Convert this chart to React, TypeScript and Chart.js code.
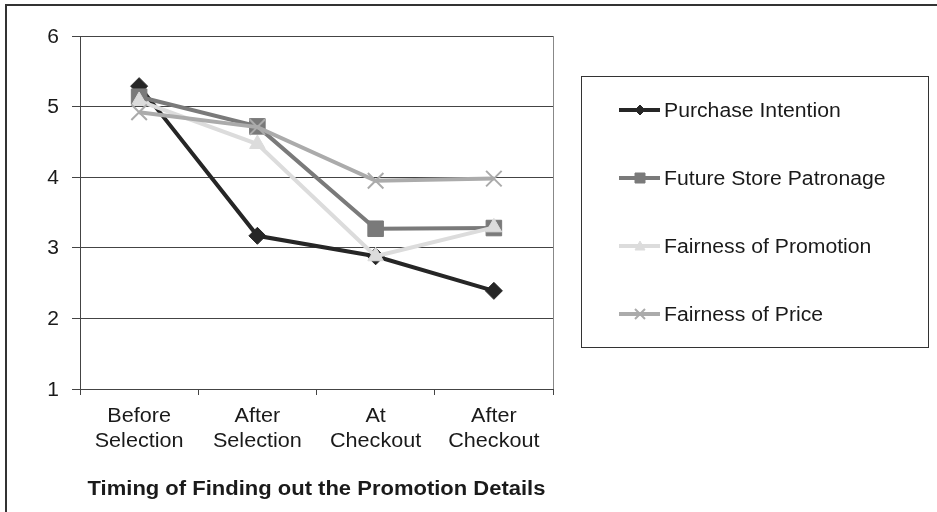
import React, { useEffect, useRef } from "react";
import { Chart, registerables } from "chart.js";

Chart.register(...registerables);

const categories: string[][] = [
  ["Before", "Selection"],
  ["After", "Selection"],
  ["At", "Checkout"],
  ["After", "Checkout"],
];
const seriesNames = [
  "Purchase Intention",
  "Future Store Patronage",
  "Fairness of Promotion",
  "Fairness of Price",
];
const purchaseIntention = [5.29, 3.17, 2.88, 2.39];
const futureStorePatronage = [5.14, 4.72, 3.27, 3.28];
const fairnessOfPromotion = [5.08, 4.47, 2.88, 3.29];
const fairnessOfPrice = [4.92, 4.71, 3.95, 3.98];
const yMin = 1;
const yMax = 6;
const yStep = 1;
const xTitle = "Timing of Finding out the Promotion Details";

const FONT = "'Liberation Sans', Arial, sans-serif";
const TEXT = "#1a1a1a";

const colors = ["#262626", "#7a7a7a", "#dcdcdc", "#ababab"];
const pointStyles = ["rectRot", "rect", "triangle", "crossRot"];
const pointRadii = [8.5, 11, 9, 11];

function fillStretched(
  ctx: CanvasRenderingContext2D,
  text: string,
  x: number,
  y: number,
  align: "left" | "center" | "right",
  sx: number
) {
  ctx.save();
  ctx.translate(x, y);
  ctx.scale(sx, 1);
  ctx.textAlign = align;
  ctx.textBaseline = "middle";
  ctx.fillText(text, 0, 0);
  ctx.restore();
}

function drawMarker(ctx: CanvasRenderingContext2D, style: string, x: number, y: number, r: number) {
  ctx.beginPath();
  if (style === "rectRot") {
    ctx.moveTo(x, y - r);
    ctx.lineTo(x + r, y);
    ctx.lineTo(x, y + r);
    ctx.lineTo(x - r, y);
    ctx.closePath();
    ctx.fill();
    ctx.stroke();
  } else if (style === "rect") {
    ctx.rect(x - r, y - r, 2 * r, 2 * r);
    ctx.fill();
    ctx.stroke();
  } else if (style === "triangle") {
    ctx.moveTo(x, y - r);
    ctx.lineTo(x + r, y + r * 0.8);
    ctx.lineTo(x - r, y + r * 0.8);
    ctx.closePath();
    ctx.fill();
    ctx.stroke();
  } else {
    ctx.moveTo(x - r, y - r);
    ctx.lineTo(x + r, y + r);
    ctx.moveTo(x + r, y - r);
    ctx.lineTo(x - r, y + r);
    ctx.stroke();
  }
}

const decorPlugin = {
  id: "decor",
  afterDraw(chart: any) {
    const ctx: CanvasRenderingContext2D = chart.ctx;
    const ca = chart.chartArea;
    const xs = chart.scales.x;
    const ys = chart.scales.y;
    ctx.save();
    // outer frame (top & left visible)
    ctx.strokeStyle = "#333";
    ctx.lineWidth = 2;
    ctx.beginPath();
    ctx.moveTo(937, 5);
    ctx.lineTo(6, 5);
    ctx.lineTo(6, 512);
    ctx.stroke();
    // plot right border
    ctx.strokeStyle = "#888";
    ctx.lineWidth = 1;
    ctx.beginPath();
    ctx.moveTo(Math.round(ca.right) + 0.5, ca.top);
    ctx.lineTo(Math.round(ca.right) + 0.5, ca.bottom);
    ctx.stroke();

    ctx.fillStyle = TEXT;
    // y tick labels
    ctx.font = `20px ${FONT}`;
    ys.ticks.forEach((t: any, i: number) => {
      fillStretched(ctx, String(t.value), 59, ys.getPixelForTick(i) + 1, "right", 1.05);
    });
    // x tick labels
    categories.forEach((lines, i) => {
      const px = xs.getPixelForTick(i);
      lines.forEach((ln, j) => {
        fillStretched(ctx, ln, px, 416 + j * 25.5, "center", 1.08);
      });
    });
    // x-axis title
    ctx.font = `bold 20px ${FONT}`;
    fillStretched(ctx, xTitle, (ca.left + ca.right) / 2, 489, "center", 1.1);

    // legend box
    const lx = 581.5, ly = 76.5, lw = 347, lh = 271;
    ctx.strokeStyle = "#333";
    ctx.lineWidth = 1;
    ctx.strokeRect(lx, ly, lw, lh);
    chart.data.datasets.forEach((ds: any, i: number) => {
      const y = 110 + i * 68;
      ctx.strokeStyle = ds.borderColor;
      ctx.lineWidth = 4;
      ctx.beginPath();
      ctx.moveTo(619, y);
      ctx.lineTo(660, y);
      ctx.stroke();
      ctx.fillStyle = ds.pointBackgroundColor;
      ctx.strokeStyle = ds.pointBorderColor;
      ctx.lineWidth = ds.pointBorderWidth;
      drawMarker(ctx, ds.pointStyle, 640, y, 5);
      ctx.fillStyle = TEXT;
      ctx.font = `20px ${FONT}`;
      fillStretched(ctx, ds.label, 664, y + 1, "left", 1.06);
    });
    ctx.restore();
  },
};

export default function App() {
  const ref = useRef<HTMLCanvasElement | null>(null);
  useEffect(() => {
    if (!ref.current) return;
    const seriesData = [purchaseIntention, futureStorePatronage, fairnessOfPromotion, fairnessOfPrice];
    const chart = new Chart(ref.current, {
      type: "line",
      data: {
        labels: categories,
        datasets: seriesData.map((d, i) => ({
          label: seriesNames[i],
          data: d,
          borderColor: colors[i],
          backgroundColor: colors[i],
          pointBackgroundColor: colors[i],
          pointBorderColor: colors[i],
          pointBorderWidth: i === 3 ? 2 : 1,
          pointStyle: pointStyles[i],
          pointRadius: pointRadii[i],
          borderWidth: 4,
          tension: 0,
          order: 4 - i,
        })),
      },
      options: {
        responsive: false,
        animation: false,
        devicePixelRatio: 1,
        layout: { padding: { left: 0, top: 36, right: 384, bottom: 0 } },
        plugins: { legend: { display: false }, tooltip: { enabled: false }, title: { display: false } },
        scales: {
          x: {
            offset: true,
            grid: { offset: true, drawOnChartArea: false, drawTicks: true, tickLength: 6, color: "#444" },
            border: { display: true, color: "#444", width: 1 },
            ticks: { display: false, autoSkip: false, maxRotation: 0 },
            afterFit(scale: any) { scale.height = 512 - 389; },
          },
          y: {
            min: yMin,
            max: yMax,
            ticks: { stepSize: yStep, display: false },
            grid: { color: "#444", tickLength: 8, lineWidth: 1 },
            border: { display: true, color: "#444", width: 1 },
            afterFit(scale: any) { scale.width = 80; },
          },
        },
      },
      plugins: [decorPlugin],
    } as any);
    return () => chart.destroy();
  }, []);
  return (
    <div style={{ position: "absolute", left: 0, top: 0, width: 937, height: 512, background: "#fff" }}>
      <canvas ref={ref} width={937} height={512} style={{ display: "block" }} />
    </div>
  );
}
